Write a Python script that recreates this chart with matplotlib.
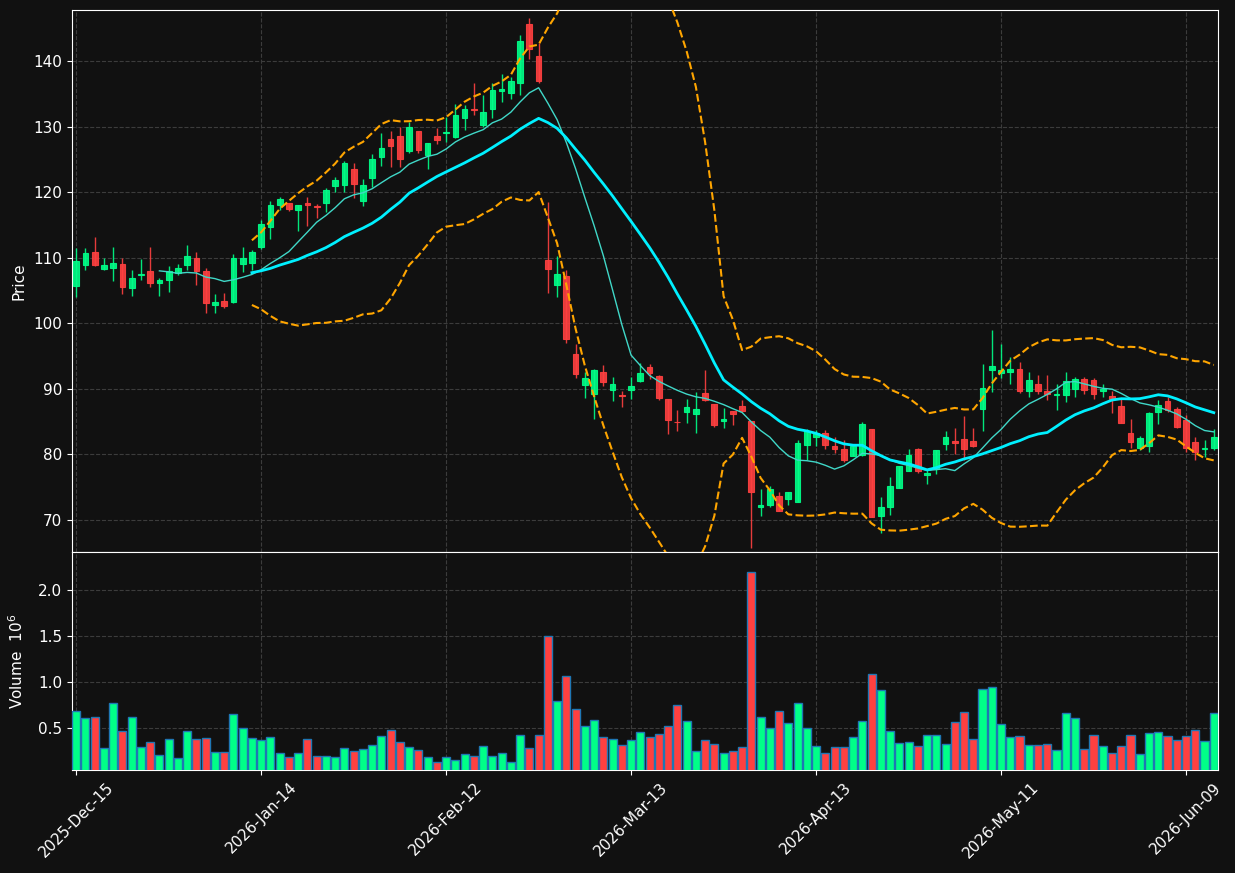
import matplotlib
matplotlib.use("Agg")
import matplotlib.pyplot as plt
import numpy as np
import pandas as pd

# trading days (NYSE holidays removed)
holidays = ['2025-12-25', '2026-01-01', '2026-01-19', '2026-02-16', '2026-04-03', '2026-05-25']
dates = pd.bdate_range('2025-12-15', '2026-06-12', freq='C', holidays=holidays)

opens = [105.7, 108.9, 110.9, 108.3, 108.4, 109.0, 105.4, 107.4, 108.0, 106.2,
         106.6, 107.7, 108.9, 110.0, 108.0, 102.8, 103.4, 103.3, 109.0, 109.2,
         111.7, 114.7, 118.0, 118.3, 117.3, 118.3, 117.9, 118.4, 120.9, 121.1,
         123.5, 118.7, 122.2, 125.4, 128.1, 128.6, 126.3, 129.3, 125.7, 128.6,
         129.0, 128.5, 131.4, 132.7, 130.2, 132.7, 135.4, 135.1, 136.7, 145.6,
         140.8, 109.7, 105.8, 107.2, 95.3, 90.6, 89.2, 92.6, 89.8, 89.1,
         89.8, 91.2, 93.3, 92.0, 88.4, 85.0, 86.4, 86.2, 89.3, 87.7,
         85.1, 86.6, 87.4, 85.1, 72.0, 72.3, 73.7, 73.2, 72.8, 81.4,
         82.6, 83.2, 81.2, 80.8, 79.8, 79.9, 83.8, 70.6, 71.9, 74.9,
         77.4, 80.8, 76.9, 77.8, 81.6, 82.0, 82.4, 82.1, 86.9, 92.8,
         92.4, 92.6, 93.0, 89.6, 90.7, 89.7, 89.1, 89.1, 90.0, 91.5,
         91.4, 89.6, 88.9, 87.4, 83.2, 80.9, 81.2, 86.5, 88.1, 86.9,
         85.3, 81.9, 80.8, 81.0]
highs = [111.5, 111.5, 113.1, 109.9, 111.6, 109.9, 108.2, 109.8, 111.6, 106.9,
         108.8, 109.0, 111.9, 110.9, 108.4, 104.4, 104.6, 110.6, 111.6, 111.2,
         115.8, 118.6, 119.3, 118.3, 118.0, 119.3, 118.2, 120.6, 122.3, 124.8,
         124.4, 122.0, 125.9, 129.1, 129.4, 130.0, 130.7, 129.3, 127.5, 129.8,
         131.5, 133.4, 133.3, 136.6, 134.9, 136.6, 138.0, 137.6, 144.0, 146.6,
         142.7, 118.5, 110.2, 108.2, 96.8, 92.6, 93.1, 93.6, 91.8, 89.7,
         91.8, 94.0, 93.8, 92.1, 88.4, 86.8, 88.4, 89.5, 92.9, 87.7,
         87.0, 86.6, 88.3, 85.1, 74.7, 75.2, 74.2, 74.3, 82.2, 83.8,
         83.7, 83.7, 82.7, 82.2, 81.3, 84.9, 83.8, 73.5, 76.5, 78.2,
         80.8, 80.9, 77.6, 80.7, 83.6, 84.0, 85.9, 84.0, 93.8, 98.9,
         96.9, 94.8, 94.1, 92.5, 92.1, 92.1, 90.7, 92.5, 91.8, 91.8,
         91.6, 90.8, 89.6, 88.5, 85.4, 82.8, 86.4, 88.3, 88.7, 87.3,
         86.0, 82.7, 82.2, 83.9]
lows = [104.0, 108.1, 108.7, 108.1, 106.5, 104.4, 104.1, 106.6, 105.6, 104.1,
        104.8, 107.4, 108.1, 105.9, 101.5, 101.5, 102.3, 103.1, 107.9, 108.2,
        111.3, 112.8, 117.3, 117.1, 114.1, 114.9, 116.0, 117.0, 120.1, 120.1,
        119.1, 117.9, 120.8, 124.0, 123.9, 123.9, 126.0, 126.0, 123.6, 127.4,
        127.7, 128.2, 129.5, 131.8, 129.9, 131.3, 133.8, 134.3, 134.8, 140.4,
        136.6, 104.6, 104.0, 97.0, 91.6, 88.6, 85.4, 90.5, 88.2, 87.3,
        88.4, 91.1, 91.5, 88.3, 83.1, 83.5, 84.8, 83.3, 88.1, 84.1,
        84.0, 84.5, 86.5, 65.7, 70.6, 72.0, 71.3, 72.3, 72.8, 79.1,
        81.3, 80.8, 80.2, 78.9, 79.7, 79.7, 70.5, 68.0, 70.7, 74.9,
        77.4, 77.1, 75.4, 77.0, 80.7, 80.0, 79.2, 81.1, 83.5, 89.5,
        91.6, 90.7, 89.4, 88.8, 89.2, 88.3, 86.7, 88.0, 88.8, 89.2,
        88.5, 88.7, 86.3, 84.8, 80.9, 80.7, 80.4, 84.6, 86.5, 84.0,
        80.4, 79.2, 79.6, 80.6]
closes = [109.5, 110.7, 108.9, 108.9, 109.2, 105.6, 106.9, 107.5, 106.2, 106.6,
          108.0, 108.4, 110.3, 108.0, 103.1, 103.2, 102.6, 110.0, 110.0, 110.9,
          115.2, 118.0, 118.9, 117.5, 118.0, 118.0, 117.7, 120.3, 121.9, 124.5,
          121.2, 121.1, 125.1, 126.7, 127.0, 125.1, 130.0, 126.4, 127.5, 127.9,
          129.2, 131.8, 132.7, 132.5, 132.3, 135.6, 135.7, 137.0, 143.1, 141.8,
          136.9, 108.3, 107.5, 97.6, 92.3, 91.6, 92.9, 91.1, 90.7, 88.9,
          90.5, 92.4, 92.4, 88.6, 85.3, 84.9, 87.2, 86.9, 88.3, 84.5,
          85.4, 86.2, 86.6, 74.2, 72.2, 74.7, 71.4, 74.2, 81.8, 83.6,
          83.2, 81.4, 80.8, 79.2, 81.3, 84.6, 70.5, 71.9, 75.2, 78.2,
          79.9, 77.4, 77.1, 80.7, 82.6, 81.7, 80.8, 81.2, 90.2, 93.5,
          92.9, 93.0, 89.7, 91.4, 89.6, 89.2, 89.2, 91.2, 91.5, 89.8,
          89.2, 90.0, 88.4, 84.8, 81.9, 82.5, 86.3, 87.6, 86.8, 84.2,
          81.0, 80.3, 81.0, 82.7]
# volume in millions
volumes = [0.683, 0.606, 0.617, 0.278, 0.770, 0.464, 0.617, 0.289, 0.343, 0.201,
           0.376, 0.168, 0.464, 0.376, 0.387, 0.234, 0.234, 0.650, 0.497, 0.387,
           0.365, 0.398, 0.223, 0.179, 0.223, 0.376, 0.190, 0.190, 0.179, 0.278,
           0.245, 0.267, 0.310, 0.409, 0.475, 0.343, 0.289, 0.256, 0.179, 0.124,
           0.179, 0.146, 0.212, 0.190, 0.300, 0.190, 0.223, 0.124, 0.420, 0.278,
           0.420, 1.493, 0.792, 1.066, 0.705, 0.519, 0.584, 0.398, 0.376, 0.310,
           0.365, 0.453, 0.398, 0.431, 0.519, 0.748, 0.573, 0.245, 0.365, 0.321,
           0.223, 0.245, 0.289, 2.194, 0.617, 0.497, 0.683, 0.551, 0.770, 0.497,
           0.300, 0.223, 0.289, 0.289, 0.398, 0.573, 1.088, 0.913, 0.464, 0.332,
           0.343, 0.300, 0.420, 0.420, 0.321, 0.562, 0.672, 0.376, 0.924, 0.946,
           0.541, 0.398, 0.409, 0.310, 0.310, 0.321, 0.256, 0.661, 0.606, 0.267,
           0.420, 0.300, 0.223, 0.300, 0.420, 0.212, 0.442, 0.453, 0.409, 0.365,
           0.409, 0.475, 0.354, 0.661]

df = pd.DataFrame({'Open': opens, 'High': highs, 'Low': lows, 'Close': closes,
                   'Volume': volumes}, index=dates[:len(opens)])

bg = '#111111'
up_col = '#00ff88'
down_col = '#ff4040'

x = np.arange(len(df))
o = df['Open'].values
c = df['Close'].values
colors = np.where(c >= o, up_col, down_col)

ma10 = df['Close'].rolling(10).mean()
ma20 = df['Close'].rolling(20).mean()
std20 = df['Close'].rolling(20).std(ddof=0)
bb_up = ma20 + 2 * std20
bb_lo = ma20 - 2 * std20

fig = plt.figure(figsize=(12.35, 8.73), dpi=100, facecolor=bg)
ax = fig.add_axes([0.0583, 0.3677, 0.9279, 0.6208], facecolor=bg)
axv = fig.add_axes([0.0583, 0.118, 0.9279, 0.2497], facecolor=bg, sharex=ax)

# candles
ax.vlines(x, df['Low'], df['High'], colors=colors, linewidth=1, alpha=0.9, zorder=3)
ax.bar(x, np.abs(c - o), bottom=np.minimum(o, c), width=0.62, color=colors,
       edgecolor=colors, linewidth=0.8, alpha=0.9, zorder=4)

ax.plot(x, ma10, color='#40d8c8', linewidth=1, zorder=5)
ax.plot(x, ma20, color='#00f0ff', linewidth=2, zorder=5)
ax.plot(x, bb_up, color='#ffa500', linewidth=1.5, linestyle='--', zorder=5)
ax.plot(x, bb_lo, color='#ffa500', linewidth=1.5, linestyle='--', zorder=5)

# volume
axv.bar(x, df['Volume'], width=0.88, color=colors, edgecolor='#1f77b4', linewidth=1, zorder=3)

ax.set_xlim(-0.45, len(df) - 0.55)
ax.set_ylim(65.1, 147.8)
axv.set_ylim(0.3 * df['Volume'].min(), 1.1 * df['Volume'].max())

ticks = list(range(0, len(df), 20))
axv.set_xticks(ticks)
axv.set_xticklabels([df.index[i].strftime('%Y-%b-%d') for i in ticks], rotation=45)
plt.setp(ax.get_xticklabels(), visible=False)
ax.tick_params(axis='x', length=0)

ax.set_yticks(range(70, 141, 10))
axv.set_yticks([0.5, 1.0, 1.5, 2.0])

for a in (ax, axv):
    a.grid(True, linestyle='--', linewidth=0.8, color='#3c3c3c', zorder=0)
    a.set_axisbelow(True)
    a.tick_params(colors='white', labelsize=11)
    for s in a.spines.values():
        s.set_color('white')

ax.set_ylabel('Price', color='white', fontsize=11)
axv.set_ylabel('Volume  $10^{6}$', color='white', fontsize=11)
ax.yaxis.set_label_coords(-0.04, 0.5)
axv.yaxis.set_label_coords(-0.04, 0.5)

fig.savefig('out.png', dpi=100, facecolor=bg)
